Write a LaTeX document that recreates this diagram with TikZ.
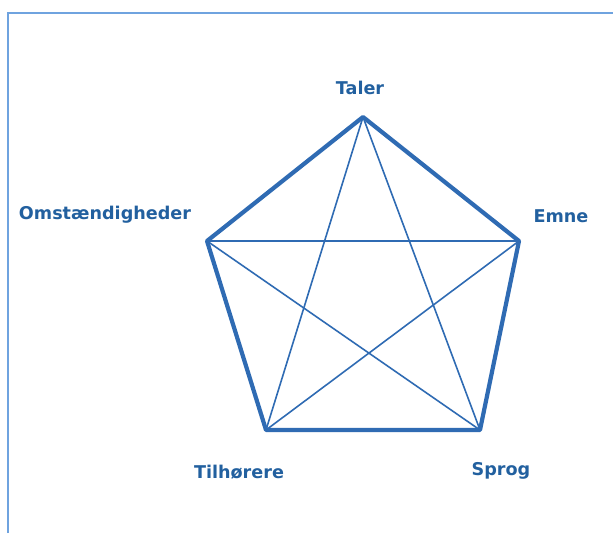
\documentclass[tikz,border=0pt]{standalone}
\usepackage{fontspec}
\setsansfont{DejaVu Sans}
\usepackage{xcolor}
\usetikzlibrary{positioning}
\definecolor{edge}{HTML}{2F6BB3}
\definecolor{ink}{HTML}{22609F}
\definecolor{frame}{HTML}{6FA3DF}
\tikzset{
  font=\sffamily\bfseries,
  corner label/.style={
    font=\sffamily\bfseries\fontsize{17.6}{19}\selectfont,
    text=ink,
    inner sep=0pt
  },
  outline/.style={
    draw=edge,
    line width=4.2pt,
    line join=round
  },
  chord/.style={
    draw=edge,
    line width=1.6pt
  },
  frame line/.style={
    draw=frame,
    line width=1.8pt
  }
}
\begin{document}
\begin{tikzpicture}[x=1pt,y=-1pt]
\useasboundingbox (0,0) rectangle (613,533);

% ---------------------------------------------------------------------------
% Frame
% ---------------------------------------------------------------------------
\coordinate (frameBottom) at (8,533);
\coordinate (frameCorner) at (8,13);
\coordinate (frameRight) at (613,13);
\draw[frame line] (frameBottom) -- (frameCorner) -- (frameRight);

% ---------------------------------------------------------------------------
% Pentagon corners
% ---------------------------------------------------------------------------
\coordinate (taler) at (363,117);
\coordinate (emne) at (519,241);
\coordinate (sprog) at (480,430);
\coordinate (tilhorere) at (266,430);
\coordinate (omst) at (207,241);

% Star chords
\draw[chord] (taler) -- (sprog);
\draw[chord] (taler) -- (tilhorere);
\draw[chord] (emne) -- (omst);
\draw[chord] (emne) -- (tilhorere);
\draw[chord] (sprog) -- (omst);

% Outer pentagon
\draw[outline] (taler) -- (emne) -- (sprog) -- (tilhorere) -- (omst) -- cycle;

% ---------------------------------------------------------------------------
% Labels
% ---------------------------------------------------------------------------
\node[corner label] (talerLabel) at (360,88) {Taler};
\node[corner label] (emneLabel) at (561,216) {Emne};
\node[corner label] (sprogLabel) at (501,471) {Sprog};
\node[corner label] (tilhorereLabel) at (239,472) {Tilhørere};
\node[corner label] (omstLabel) at (105,215) {Omstændigheder};

\end{tikzpicture}
\end{document}
